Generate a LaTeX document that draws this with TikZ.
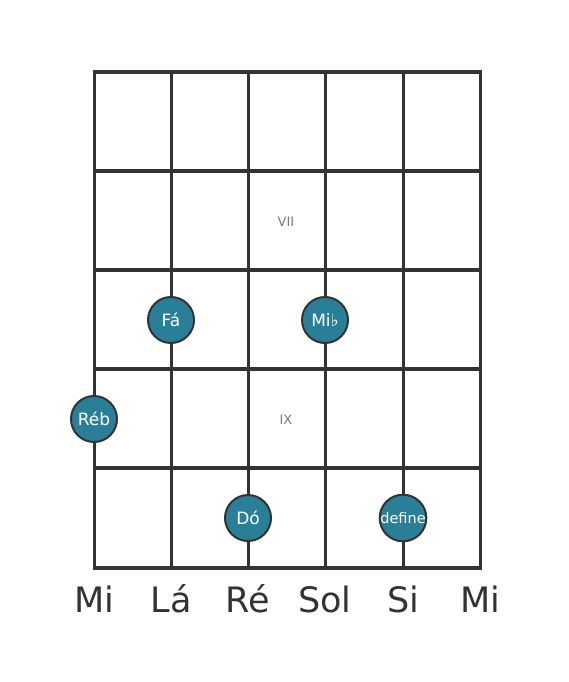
\documentclass[tikz,border=0pt]{standalone}
\usepackage{fontspec}
\setmainfont{DejaVu Sans}
\definecolor{gridgray}{HTML}{333333}
\definecolor{noteteal}{HTML}{2A7F98}
\definecolor{fretgray}{HTML}{7A7A7A}
\tikzset{
  string/.style={gridgray, line width=3pt},
  fret/.style={gridgray, line width=4.5pt},
  note/.style={circle, fill=noteteal, draw=gridgray, line width=2pt, minimum size=46pt, inner sep=0pt, text=white, font=\fontsize{17}{17}\selectfont},
  fretnum/.style={text=fretgray, font=\fontsize{13}{13}\selectfont},
  strname/.style={text=gridgray, font=\fontsize{35}{35}\selectfont}
}
\begin{document}
\begin{tikzpicture}[x=1pt,y=-1pt]
		\useasboundingbox (0,0) rectangle (568,682);
		\draw[string] (94,72) -- (94,568);
		\draw[string] (171,72) -- (171,568);
		\draw[string] (248,72) -- (248,568);
		\draw[string] (325,72) -- (325,568);
		\draw[string] (403,72) -- (403,568);
		\draw[string] (480,72) -- (480,568);
		\draw[fret] (92.5,72) -- (481.5,72);
		\draw[fret] (94,171) -- (480,171);
		\draw[fret] (94,270) -- (480,270);
		\draw[fret] (94,369) -- (480,369);
		\draw[fret] (94,468) -- (480,468);
		\draw[fret] (92.5,568) -- (481.5,568);
		\node[fretnum] (vii) at (286,222) {VII};
		\node[fretnum] (ix) at (286,420) {IX};
		\node[note] (fa) at (171,320) {Fá};
		\node[note] (mib) at (325,320) {Mi♭};
		\node[note] (reb) at (94,419) {Réb};
		\node[note] (do) at (248,518) {Dó};
		\node[note, font=\fontsize{14.5}{14.5}\selectfont] (def) at (403,518) {define};
		\node[strname, anchor=base] (s6) at (94,612) {Mi};
		\node[strname, anchor=base] (s5) at (171,612) {Lá};
		\node[strname, anchor=base] (s4) at (248,612) {Ré};
		\node[strname, anchor=base] (s3) at (325,612) {Sol};
		\node[strname, anchor=base] (s2) at (403,612) {Si};
		\node[strname, anchor=base] (s1) at (480,612) {Mi};
	\end{tikzpicture}
\end{document}
